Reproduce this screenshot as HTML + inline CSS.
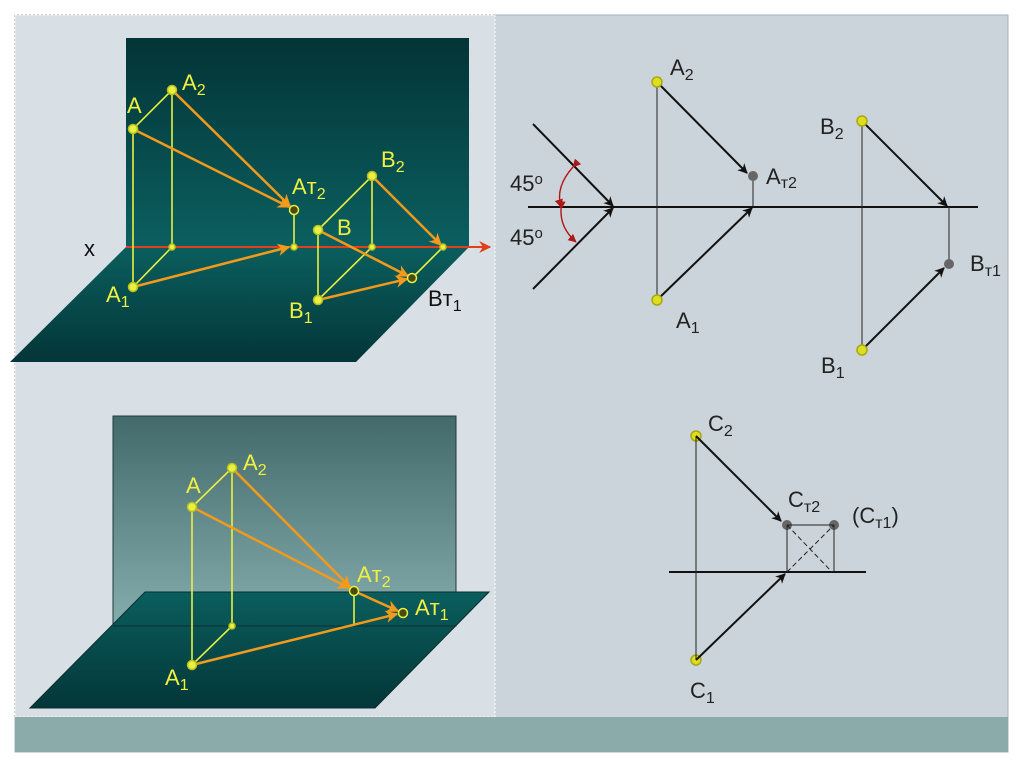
<!DOCTYPE html>
<html><head><meta charset="utf-8"><style>
html,body{margin:0;padding:0;background:#fff;}
svg{display:block;}
text{font-family:"Liberation Sans",sans-serif;}
</style></head><body>
<svg width="1024" height="767" viewBox="0 0 1024 767" xmlns="http://www.w3.org/2000/svg">
<defs>
<linearGradient id="vp1" x1="0" y1="0" x2="0" y2="1"><stop offset="0" stop-color="#033436"/><stop offset="1" stop-color="#0b5f60"/></linearGradient>
<linearGradient id="hp1" x1="0" y1="0" x2="0" y2="1"><stop offset="0" stop-color="#0b5e5e"/><stop offset="1" stop-color="#033638"/></linearGradient>
<linearGradient id="vp2" x1="0" y1="0" x2="0" y2="1"><stop offset="0" stop-color="#436a6b"/><stop offset="1" stop-color="#86adae"/></linearGradient>
<marker id="ao" viewBox="0 0 10 10" refX="9" refY="5" markerWidth="5" markerHeight="5" orient="auto"><path d="M0,0 L10,5 L0,10 L3,5 z" fill="#f29a1c"/></marker>
<marker id="ab" viewBox="0 0 10 10" refX="9" refY="5" markerWidth="5" markerHeight="5" orient="auto"><path d="M0,0 L10,5 L0,10 L3,5 z" fill="#111"/></marker>
<marker id="ar" viewBox="0 0 10 10" refX="9" refY="5" markerWidth="6" markerHeight="6" orient="auto"><path d="M0,0 L10,5 L0,10 L3,5 z" fill="#e0401a"/></marker>
<marker id="arr" viewBox="0 0 10 10" refX="9" refY="5" markerWidth="6" markerHeight="6" orient="auto"><path d="M0,0 L10,5 L0,10 z" fill="#b01818"/></marker>
</defs>
<rect x="15" y="15" width="993" height="737" fill="#cbd4da" stroke="#a8b2b8"/>
<rect x="15" y="15" width="480" height="702" fill="#d9e0e5" stroke="#fff" stroke-dasharray="2,2"/>
<rect x="15" y="717" width="993" height="35" fill="#8aabaa"/>

<!-- top-left -->
<rect x="126" y="38" width="343" height="209" fill="url(#vp1)"/>
<polygon points="126,247 469,247 356,362 10,362" fill="url(#hp1)"/>
<line x1="126" y1="247" x2="490" y2="247" stroke="#e0401a" stroke-width="2" marker-end="url(#ar)"/>
<text x="84" y="256" font-size="22" fill="#111">x</text>
<g stroke="#e8f040" stroke-width="1.6" fill="none">
<path d="M133,129 L172,90 L172,247 M133,129 L133,287 L172,247 M294,210 L294,247 M318,230 L372,176 L372,247 M318,230 L318,300 L372,247 M412,278 L443,247"/>
</g>
<g stroke="#f29a1c" stroke-width="2.5" fill="none" marker-end="url(#ao)">
<line x1="133" y1="129" x2="289" y2="207"/>
<line x1="172" y1="90" x2="290" y2="206"/>
<line x1="133" y1="287" x2="289" y2="247"/>
<line x1="318" y1="230" x2="408" y2="276"/>
<line x1="318" y1="300" x2="407" y2="279"/>
<line x1="372" y1="176" x2="441" y2="245"/>
</g>
<g fill="#e8f040" stroke="#b8c020" stroke-width="1.5">
<circle cx="133" cy="129" r="4.5"/><circle cx="172" cy="90" r="4.5"/><circle cx="133" cy="287" r="4.5"/>
<circle cx="318" cy="230" r="4.5"/><circle cx="372" cy="176" r="4.5"/><circle cx="318" cy="300" r="4.5"/>
<circle cx="172" cy="247" r="3"/><circle cx="294" cy="247" r="3"/><circle cx="372" cy="247" r="3"/><circle cx="443" cy="247" r="3"/>
</g>
<g fill="#4a4a10" stroke="#e8f040" stroke-width="1.5"><circle cx="294" cy="210" r="4.5"/><circle cx="412" cy="278" r="4.5"/></g>
<g fill="#f0f040" font-size="22">
<text x="182" y="90">A<tspan font-size="16" dy="5">2</tspan></text>
<text x="127" y="113">A</text>
<text x="292" y="194">Aт<tspan font-size="16" dy="5">2</tspan></text>
<text x="381" y="167">B<tspan font-size="16" dy="5">2</tspan></text>
<text x="337" y="235">B</text>
<text x="106" y="302">A<tspan font-size="16" dy="5">1</tspan></text>
<text x="289" y="318">B<tspan font-size="16" dy="5">1</tspan></text>
</g>
<text x="428" y="306" font-size="22" fill="#111">Bт<tspan font-size="16" dy="5">1</tspan></text>

<!-- bottom-left -->
<rect x="113" y="416" width="343" height="210" fill="url(#vp2)" stroke="#1e3a3a" stroke-width="1"/>
<polygon points="145,592 489,592 375,708 30,708" fill="url(#hp1)" stroke="#0a2e2e"/>
<line x1="113" y1="626" x2="456" y2="626" stroke="#0a2e2e" stroke-width="1"/>
<g stroke="#e8f040" stroke-width="1.6" fill="none">
<path d="M192,507 L232,468 L232,626 M192,507 L192,665 L232,626 M354,591 L354,626"/>
</g>
<g stroke="#f29a1c" stroke-width="2.5" fill="none" marker-end="url(#ao)">
<line x1="192" y1="507" x2="349" y2="588"/>
<line x1="232" y1="468" x2="350" y2="587"/>
<line x1="354" y1="591" x2="398" y2="611"/>
<line x1="192" y1="665" x2="397" y2="614"/>
</g>
<g fill="#e8f040" stroke="#b8c020" stroke-width="1.5">
<circle cx="192" cy="507" r="4.5"/><circle cx="232" cy="468" r="4.5"/><circle cx="192" cy="665" r="4.5"/><circle cx="232" cy="626" r="3"/>
</g>
<g fill="#4a4a10" stroke="#e8f040" stroke-width="1.5"><circle cx="354" cy="591" r="4.5"/><circle cx="403" cy="613" r="4.5"/></g>
<g fill="#f0f040" font-size="22">
<text x="243" y="470">A<tspan font-size="16" dy="5">2</tspan></text>
<text x="186" y="493">A</text>
<text x="357" y="582">Aт<tspan font-size="16" dy="5">2</tspan></text>
<text x="415" y="615">Aт<tspan font-size="16" dy="5">1</tspan></text>
<text x="165" y="685">A<tspan font-size="16" dy="5">1</tspan></text>
</g>

<!-- right: A,B -->
<g stroke="#111" stroke-width="2" fill="none">
<line x1="528" y1="207" x2="978" y2="207"/>
<line x1="533" y1="124" x2="613" y2="206" marker-end="url(#ab)"/>
<line x1="533" y1="289" x2="613" y2="208" marker-end="url(#ab)"/>
<line x1="657" y1="82" x2="747" y2="173" marker-end="url(#ab)"/>
<line x1="657" y1="300" x2="752" y2="208" marker-end="url(#ab)"/>
<line x1="862" y1="121" x2="947" y2="206" marker-end="url(#ab)"/>
<line x1="862" y1="350" x2="944" y2="268" marker-end="url(#ab)"/>
</g>
<g stroke="#222" stroke-width="1" fill="none">
<line x1="657" y1="82" x2="657" y2="300"/>
<line x1="753" y1="176" x2="753" y2="207"/>
<line x1="862" y1="121" x2="862" y2="350"/>
<line x1="949" y1="207" x2="949" y2="264"/>
</g>
<path d="M573,167 Q555,187 561,207" stroke="#b01818" stroke-width="1.4" fill="none" marker-start="url(#arr)" marker-end="url(#arr)"/>
<path d="M561,209 Q560,228 576,242" stroke="#b01818" stroke-width="1.4" fill="none" marker-start="url(#arr)" marker-end="url(#arr)"/>
<g fill="#dede20" stroke="#a8a810" stroke-width="1.5">
<circle cx="657" cy="82" r="5"/><circle cx="657" cy="300" r="5"/><circle cx="862" cy="121" r="5"/><circle cx="862" cy="350" r="5"/>
<circle cx="696" cy="436" r="5"/><circle cx="696" cy="660" r="5"/>
</g>
<g fill="#666"><circle cx="753" cy="176" r="5"/><circle cx="949" cy="264" r="5"/><circle cx="787" cy="525" r="5"/><circle cx="834" cy="525" r="5"/></g>
<g fill="#222" font-size="22">
<text x="510" y="191">45<tspan font-size="15" dy="-7">o</tspan></text>
<text x="510" y="245">45<tspan font-size="15" dy="-7">o</tspan></text>
<text x="670" y="75">A<tspan font-size="16" dy="5">2</tspan></text>
<text x="766" y="184">A<tspan font-size="16" dy="4">т2</tspan></text>
<text x="676" y="328">A<tspan font-size="16" dy="5">1</tspan></text>
<text x="820" y="134">B<tspan font-size="16" dy="5">2</tspan></text>
<text x="970" y="271">B<tspan font-size="16" dy="5">т1</tspan></text>
<text x="821" y="373">B<tspan font-size="16" dy="5">1</tspan></text>
<text x="708" y="431">C<tspan font-size="16" dy="5">2</tspan></text>
<text x="788" y="507">C<tspan font-size="16" dy="5">т2</tspan></text>
<text x="852" y="523">(C<tspan font-size="16" dy="5">т1</tspan><tspan dy="-5">)</tspan></text>
<text x="690" y="698">C<tspan font-size="16" dy="5">1</tspan></text>
</g>

<!-- C -->
<g stroke="#111" stroke-width="2" fill="none">
<line x1="669" y1="572" x2="866" y2="572"/>
<line x1="696" y1="436" x2="781" y2="521" marker-end="url(#ab)"/>
<line x1="696" y1="660" x2="785" y2="574" marker-end="url(#ab)"/>
</g>
<g stroke="#222" stroke-width="1" fill="none">
<line x1="696" y1="436" x2="696" y2="660"/>
<path d="M787,525 L834,525 M787,525 L787,572 M834,525 L834,572"/>
<path d="M787,525 L832,572 M787,572 L834,525" stroke-dasharray="5,3"/>
</g>
</svg>
</body></html>
